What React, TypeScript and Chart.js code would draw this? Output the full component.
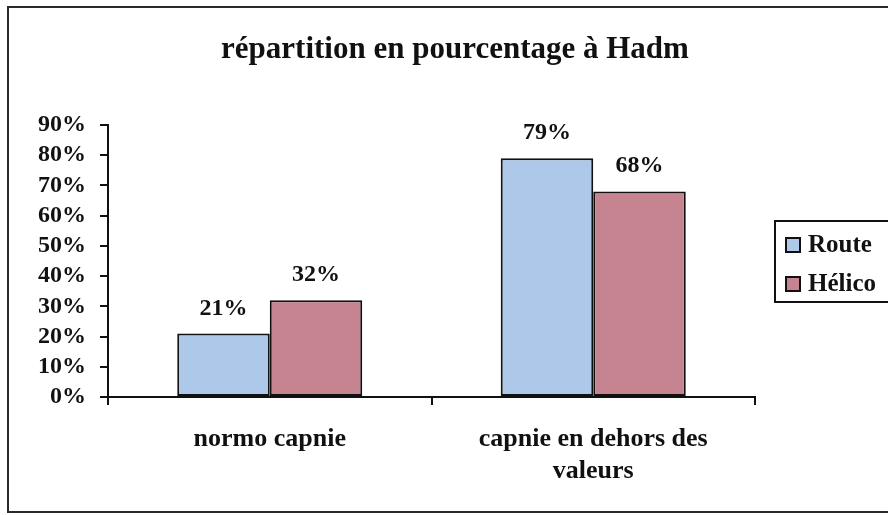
import React, { useEffect, useRef } from "react";
import { Chart, registerables } from "chart.js";

Chart.register(...registerables);

const titleText = "répartition en pourcentage à Hadm";
const categories: (string | string[])[] = ["normo capnie", ["capnie en dehors des", "valeurs"]];
const seriesNames = ["Route", "Hélico"];
const routeValues = [21, 79];
const helicoValues = [32, 68];
const seriesColors = ["#adc8e8", "#c5848f"];
const yMax = 90;
const yStep = 10;

const FONT = "'Liberation Serif', 'Times New Roman', serif";
const INK = "#111111";

const framePlugin = {
  id: "frame",
  beforeDraw(chart: any) {
    const ctx = chart.ctx;
    ctx.save();
    ctx.fillStyle = "#ffffff";
    ctx.fillRect(0, 0, chart.width, chart.height);
    ctx.restore();
  },
  afterDraw(chart: any) {
    const ctx = chart.ctx;
    ctx.save();
    ctx.strokeStyle = "#2a2a2a";
    ctx.lineWidth = 2;
    ctx.strokeRect(8, 7, chart.width - 16, chart.height - 10);
    ctx.fillStyle = INK;
    ctx.font = `bold 31px ${FONT}`;
    ctx.textAlign = "center";
    ctx.textBaseline = "alphabetic";
    ctx.fillText(titleText, 455, 58);
    ctx.restore();
  },
};

const valueLabelPlugin = {
  id: "valueLabels",
  afterDatasetsDraw(chart: any) {
    const ctx = chart.ctx;
    ctx.save();
    ctx.font = `bold 24px ${FONT}`;
    ctx.fillStyle = INK;
    ctx.textAlign = "center";
    ctx.textBaseline = "alphabetic";
    chart.data.datasets.forEach((ds: any, di: number) => {
      const meta = chart.getDatasetMeta(di);
      meta.data.forEach((bar: any, i: number) => {
        ctx.fillText(`${ds.data[i]}%`, bar.x, bar.y - 19);
      });
    });
    ctx.restore();
  },
};

const boxLegendPlugin = {
  id: "boxLegend",
  afterDraw(chart: any) {
    const ctx = chart.ctx;
    const left = 775;
    const top = 221;
    const w = 128;
    const h = 81;
    ctx.save();
    ctx.fillStyle = "#ffffff";
    ctx.fillRect(left, top, w, h);
    ctx.strokeStyle = INK;
    ctx.lineWidth = 2;
    ctx.strokeRect(left, top, w, h);
    ctx.font = `bold 25px ${FONT}`;
    ctx.textAlign = "left";
    ctx.textBaseline = "middle";
    chart.data.datasets.forEach((ds: any, i: number) => {
      const cy = top + 24 + i * 39;
      ctx.fillStyle = ds.backgroundColor;
      ctx.fillRect(786, cy - 7, 14, 14);
      ctx.strokeStyle = INK;
      ctx.lineWidth = 2;
      ctx.strokeRect(786, cy - 7, 14, 14);
      ctx.fillStyle = INK;
      ctx.fillText(ds.label, 808, cy + 1);
    });
    ctx.restore();
  },
};

export default function App() {
  const canvasRef = useRef<HTMLCanvasElement | null>(null);

  useEffect(() => {
    if (!canvasRef.current) return;
    const chart = new Chart(canvasRef.current, {
      type: "bar",
      data: {
        labels: categories as any,
        datasets: [
          {
            label: seriesNames[0],
            data: routeValues,
            backgroundColor: seriesColors[0],
            borderColor: INK,
            borderWidth: 2,
            borderSkipped: false,
            categoryPercentage: 0.572,
            barPercentage: 1,
          },
          {
            label: seriesNames[1],
            data: helicoValues,
            backgroundColor: seriesColors[1],
            borderColor: INK,
            borderWidth: 2,
            borderSkipped: false,
            categoryPercentage: 0.572,
            barPercentage: 1,
          },
        ],
      },
      options: {
        responsive: false,
        animation: false,
        devicePixelRatio: 1,
        layout: { padding: { left: 0, right: 155, top: 125, bottom: 0 } },
        plugins: {
          legend: { display: false },
          tooltip: { enabled: false },
          title: { display: false },
        },
        scales: {
          x: {
            grid: {
              display: true,
              offset: true,
              drawOnChartArea: false,
              drawTicks: true,
              tickLength: 8,
              color: INK,
              lineWidth: 2,
            },
            border: { display: true, color: INK, width: 2 },
            ticks: {
              color: INK,
              font: { family: FONT, size: 26, weight: "bold" },
              padding: 19,
              maxRotation: 0,
              autoSkip: false,
            },
            afterFit: (s: any) => {
              s.height = 118;
            },
          },
          y: {
            min: 0,
            max: yMax,
            grid: {
              drawOnChartArea: false,
              drawTicks: true,
              tickLength: 8,
              color: INK,
              lineWidth: 2,
            },
            border: { display: true, color: INK, width: 2 },
            ticks: {
              stepSize: yStep,
              autoSkip: false,
              color: INK,
              font: { family: FONT, size: 24, weight: "bold" },
              padding: 14,
              callback: (v: any) => `${v}%`,
            },
            afterFit: (s: any) => {
              s.width = 108;
            },
          },
        },
      } as any,
      plugins: [framePlugin, valueLabelPlugin, boxLegendPlugin],
    });
    return () => chart.destroy();
  }, []);

  return (
    <div
      style={{
        position: "fixed",
        left: 0,
        top: 0,
        width: 888,
        height: 515,
        overflow: "hidden",
        background: "#ffffff",
      }}
    >
      <canvas ref={canvasRef} width={910} height={515} style={{ display: "block", width: 910, height: 515 }} />
    </div>
  );
}
